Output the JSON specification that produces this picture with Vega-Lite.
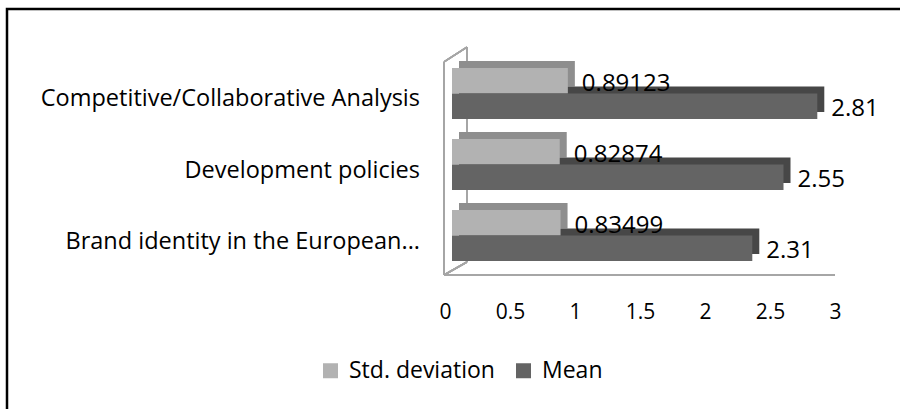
{
  "$schema": "https://vega.github.io/schema/vega-lite/v6.json",
  "autosize": "none",
  "width": 900,
  "height": 410,
  "padding": {"left": 7, "top": 9, "right": 0, "bottom": 0},
  "background": "white",
  "config": {
    "view": {"stroke": "#000000", "strokeWidth": 2.5},
    "font": "Open Sans",
    "axis": {"labelFont": "Open Sans", "labelColor": "#000000"},
    "legend": {"labelFont": "Open Sans", "labelColor": "#000000"}
  },
  "data": {
    "values": [
      {"category": "Competitive/Collaborative Analysis", "series": "Std. deviation", "value": 0.89123},
      {"category": "Competitive/Collaborative Analysis", "series": "Mean", "value": 2.81},
      {"category": "Development policies", "series": "Std. deviation", "value": 0.82874},
      {"category": "Development policies", "series": "Mean", "value": 2.55},
      {"category": "Brand identity in the European...", "series": "Std. deviation", "value": 0.83499},
      {"category": "Brand identity in the European...", "series": "Mean", "value": 2.31}
    ]
  },
  "encoding": {
    "y": {
      "field": "category",
      "type": "nominal",
      "sort": ["Competitive/Collaborative Analysis", "Development policies", "Brand identity in the European..."],
      "scale": {"type": "band", "paddingInner": 0.2817, "paddingOuter": 0, "range": [59, 252]},
      "axis": null
    }
  },
  "resolve": {"scale": {"yOffset": "independent"}},
  "layer": [
    {
      "mark": {"type": "rule", "color": "#a6a6a6", "strokeWidth": 1.5},
      "encoding": {
        "x": {"datum": 0.115, "type": "quantitative"},
        "y": {"datum": "Competitive/Collaborative Analysis", "type": "nominal", "bandPosition": -0.41},
        "y2": {"datum": "Brand identity in the European...", "bandPosition": 1.02}
      }
    },
    {
      "mark": {"type": "rule", "color": "#a6a6a6", "strokeWidth": 1.5},
      "encoding": {
        "x": {"datum": -0.0615, "type": "quantitative"},
        "y": {"datum": "Competitive/Collaborative Analysis", "type": "nominal", "bandPosition": -0.118},
        "y2": {"datum": "Brand identity in the European...", "bandPosition": 1.275}
      }
    },
    {
      "mark": {"type": "rule", "color": "#a6a6a6", "strokeWidth": 1.5},
      "encoding": {
        "x": {"datum": -0.0615, "type": "quantitative"},
        "x2": {"datum": 0.115},
        "y": {"datum": "Competitive/Collaborative Analysis", "type": "nominal", "bandPosition": -0.118},
        "y2": {"datum": "Competitive/Collaborative Analysis", "bandPosition": -0.41}
      }
    },
    {
      "mark": {"type": "rule", "color": "#a6a6a6", "strokeWidth": 1.5},
      "encoding": {
        "x": {"datum": -0.0615, "type": "quantitative"},
        "x2": {"datum": 0.115},
        "y": {"datum": "Brand identity in the European...", "type": "nominal", "bandPosition": 1.275},
        "y2": {"datum": "Brand identity in the European...", "bandPosition": 1.02}
      }
    },
    {
      "mark": {"type": "rule", "color": "#a6a6a6", "strokeWidth": 1.5},
      "encoding": {
        "x": {"datum": -0.0615, "type": "quantitative"},
        "x2": {"datum": 2.946},
        "y": {"datum": "Brand identity in the European...", "type": "nominal", "bandPosition": 1.275}
      }
    },
    {
      "mark": {"type": "bar", "xOffset": 7},
      "encoding": {
        "x": {"field": "value", "type": "quantitative"},
        "yOffset": {"field": "series", "type": "nominal", "sort": ["Std. deviation", "Mean"], "scale": {"type": "band", "domain": ["Std. deviation", "Mean"], "paddingInner": 0, "paddingOuter": 0, "range": [-7, 44]}},
        "fill": {"condition": {"test": "datum.series === 'Mean'", "value": "#474747"}, "value": "#8e8e8e"}
      }
    },
    {
      "mark": {"type": "bar"},
      "encoding": {
        "x": {
          "field": "value",
          "type": "quantitative",
          "scale": {"domain": [-3.4231, 3.5], "nice": false, "zero": false},
          "axis": {
            "values": [0, 0.5, 1, 1.5, 2, 2.5, 3],
            "format": "~g",
            "title": null,
            "domain": false,
            "ticks": false,
            "grid": false,
            "offset": -118,
            "labelPadding": 0,
            "labelOffset": -7,
            "labelFontSize": 21,
            "labelFlush": false
          }
        },
        "yOffset": {"field": "series", "type": "nominal", "sort": ["Std. deviation", "Mean"], "scale": {"type": "band", "domain": ["Std. deviation", "Mean"], "paddingInner": 0, "paddingOuter": 0}},
        "color": {
          "field": "series",
          "type": "nominal",
          "sort": ["Std. deviation", "Mean"],
          "scale": {"domain": ["Std. deviation", "Mean"], "range": ["#b2b2b2", "#646464"]},
          "legend": {
            "title": null,
            "orient": "none",
            "direction": "horizontal",
            "legendX": 312,
            "legendY": 350,
            "symbolType": "square",
            "symbolSize": 225,
            "symbolStrokeWidth": 0,
            "labelFontSize": 23,
            "labelOffset": 7,
            "columnPadding": 17
          }
        }
      }
    },
    {
      "mark": {"type": "text", "align": "left", "baseline": "middle", "dx": 14, "dy": 3, "fontSize": 24, "font": "Open Sans", "color": "#000000"},
      "encoding": {
        "x": {"field": "value", "type": "quantitative"},
        "yOffset": {"field": "series", "type": "nominal", "sort": ["Std. deviation", "Mean"], "scale": {"type": "band", "domain": ["Std. deviation", "Mean"], "paddingInner": 0, "paddingOuter": 0}},
        "text": {"field": "value", "type": "nominal"}
      }
    },
    {
      "mark": {"type": "text", "align": "right", "baseline": "middle", "dx": -32, "dy": 6, "fontSize": 23.5, "font": "Open Sans", "color": "#000000"},
      "transform": [{"filter": "datum.series === 'Mean'"}],
      "encoding": {
        "x": {"datum": 0, "type": "quantitative"},
        "text": {"field": "category", "type": "nominal"}
      }
    }
  ]
}
